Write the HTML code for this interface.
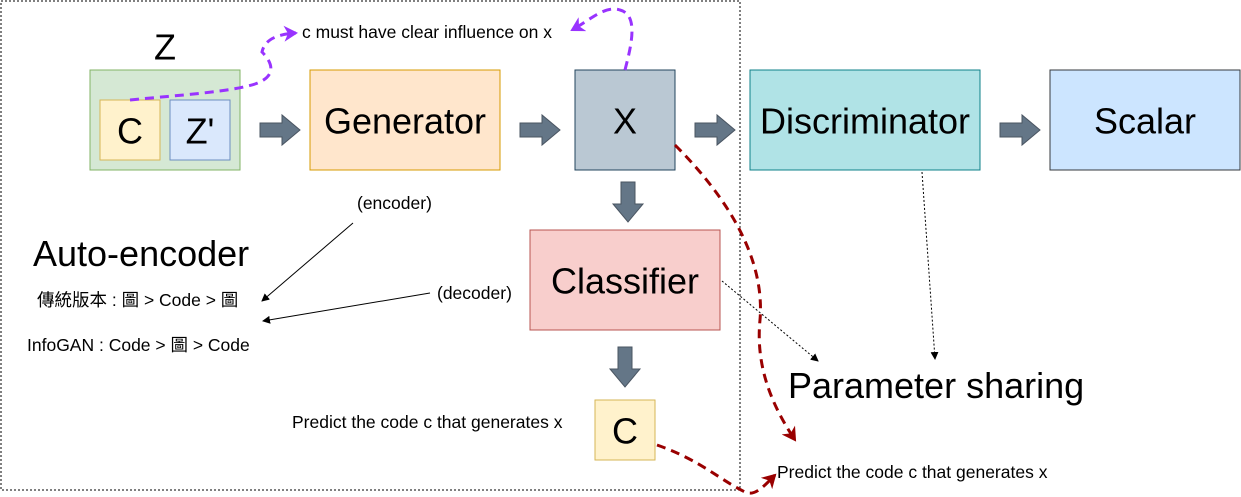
<!DOCTYPE html>
<html><head><meta charset="utf-8"><style>
body{margin:0;background:#fff}
svg{display:block}
text{font-family:"Liberation Sans","Noto Sans CJK TC",sans-serif}
</style></head><body>
<svg width="1241" height="497" viewBox="0 0 1241 497">
<defs>
<marker id="bk" markerWidth="8" markerHeight="8" refX="7" refY="4" orient="auto" markerUnits="userSpaceOnUse"><path d="M0,0 L8,4 L0,8 Z" fill="#000"/></marker>
<marker id="pu" markerWidth="16" markerHeight="16" refX="12" refY="8" orient="auto" markerUnits="userSpaceOnUse"><path d="M0,0 L14,8 L0,16 L4,8 Z" fill="#9933ff"/></marker>
<marker id="rd" markerWidth="16" markerHeight="16" refX="12" refY="8" orient="auto" markerUnits="userSpaceOnUse"><path d="M0,0 L14,8 L0,16 L4,8 Z" fill="#990000"/></marker>
<g id="ra"><path d="M0,-7 L22,-7 L22,-15 L40,0 L22,15 L22,7 L0,7 Z" fill="#647687" stroke="#4a5562" stroke-width="1"/></g>
</defs>
<rect x="1" y="1" width="739" height="489" fill="none" stroke="#000" stroke-dasharray="2,2"/>
<rect x="90" y="70" width="150" height="100" fill="#d5e8d4" stroke="#82b366"/>
<rect x="100" y="100" width="60" height="60" fill="#fff2cc" stroke="#d6b656"/>
<rect x="170" y="100" width="60" height="60" fill="#dae8fc" stroke="#6c8ebf"/>
<rect x="310" y="70" width="190" height="100" fill="#ffe6cc" stroke="#d79b00"/>
<rect x="575" y="70" width="100" height="100" fill="#bac8d3" stroke="#23445d"/>
<rect x="750" y="70" width="230" height="100" fill="#b0e3e6" stroke="#0e8088"/>
<rect x="1050" y="70" width="190" height="100" fill="#cce5ff" stroke="#36393d"/>
<rect x="530" y="230" width="190" height="100" fill="#f8cecc" stroke="#b85450"/>
<rect x="595" y="400" width="60" height="60" fill="#fff2cc" stroke="#d6b656"/>
<use href="#ra" transform="translate(260,130)"/>
<use href="#ra" transform="translate(520,130)"/>
<use href="#ra" transform="translate(695,130)"/>
<use href="#ra" transform="translate(1000,130)"/>
<use href="#ra" transform="translate(628,182) rotate(90)"/>
<use href="#ra" transform="translate(625,347) rotate(90)"/>
<g text-anchor="middle" dominant-baseline="central" fill="#000">
<text x="165" y="47" font-size="36">Z</text>
<text x="130" y="131" font-size="36">C</text>
<text x="200" y="131" font-size="36">Z'</text>
<text x="405" y="121" font-size="36">Generator</text>
<text x="625" y="121" font-size="36">X</text>
<text x="865" y="121" font-size="36">Discriminator</text>
<text x="1145" y="121" font-size="36">Scalar</text>
<text x="625" y="281" font-size="36">Classifier</text>
<text x="625" y="431" font-size="36">C</text>
</g>
<g fill="#000" font-size="17.5">
<text x="302" y="38">c must have clear influence on x</text>
<text x="357" y="209">(encoder)</text>
<text x="437" y="299">(decoder)</text>
<text x="37" y="306">傳統版本 : 圖 &gt; Code &gt; 圖</text>
<text x="27" y="351">InfoGAN : Code &gt; 圖 &gt; Code</text>
<text x="292" y="428">Predict the code c that generates x</text>
<text x="777" y="478">Predict the code c that generates x</text>
<text x="33" y="266" font-size="36">Auto-encoder</text>
<text x="788" y="398" font-size="36">Parameter sharing</text>
</g>
<g stroke="#000" stroke-width="1" fill="none">
<path d="M353,223 L262,301" marker-end="url(#bk)"/>
<path d="M430,293 L263,321" marker-end="url(#bk)"/>
<path d="M722,281 L818,361" stroke-dasharray="2,2" marker-end="url(#bk)"/>
<path d="M922,172 L935,359" stroke-dasharray="2,2" marker-end="url(#bk)"/>
</g>
<g fill="none" stroke-width="3" stroke-dasharray="9,6">
<path d="M130,100 C180,95 230,92 255,84 C278,76 272,62 262,52 C265,38 280,34 296,33" stroke="#9933ff" marker-end="url(#pu)"/>
<path d="M625,70 C630,50 640,15 620,10 C605,5 590,20 572,30" stroke="#9933ff" marker-end="url(#pu)"/>
<path d="M675,145 C730,200 765,260 760,320 C755,370 775,410 795,440" stroke="#990000" marker-end="url(#rd)"/>
<path d="M657,445 C700,460 720,480 745,492 C755,497 765,485 775,475" stroke="#990000" marker-end="url(#rd)"/>
</g>
</svg>
</body></html>
